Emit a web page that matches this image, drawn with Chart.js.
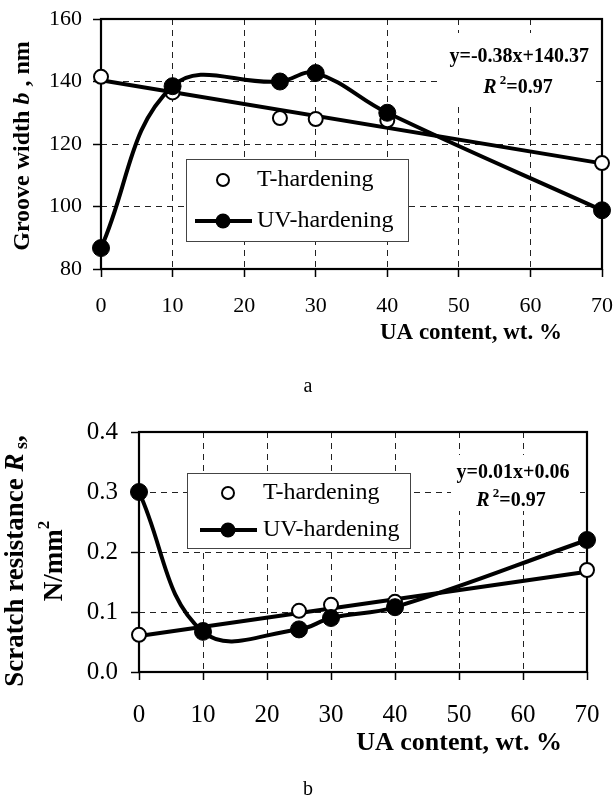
<!DOCTYPE html>
<html>
<head>
<meta charset="utf-8">
<script src="https://cdn.jsdelivr.net/npm/chart.js@4.4.1/dist/chart.umd.min.js"></script>
<style>
  html, body { margin: 0; padding: 0; background: #fff; }
  #wrap { position: relative; width: 613px; height: 803px; }
  canvas { position: absolute; left: 0; }
</style>
</head>
<body>
<div id="wrap">
  <canvas id="chart-a" width="613" height="400" style="top:0"></canvas>
  <canvas id="chart-b" width="613" height="403" style="top:400px"></canvas>
</div>
<script>
// values
const uaContent = [0, 10, 25, 30, 40, 70];

const grooveT = [141.5, 136.5, 128.3, 128, 127.6, 113.9];
const grooveUV = [86.7, 138.5, 140, 142.7, 130, 98.8];
const trendX = [0, 70];
const grooveTrend = [140.4, 113.8];

const scratchT = [0.062, 0.07, 0.102, 0.112, 0.117, 0.17];
const scratchUV = [0.30, 0.067, 0.071, 0.09, 0.108, 0.22];
const scratchTrend = [0.06, 0.167];

const SERIF = '"Liberation Serif", "Times New Roman", serif';

function pts(xs, ys) {
    return xs.map(function (x, i) { return { x: x, y: ys[i] }; });
}

// draws a run of text pieces with their own fonts (for italics, sub/superscripts)
function drawRich(ctx, parts, x, y, align) {
    let total = 0;
    parts.forEach(function (p) { ctx.font = p.font; total += ctx.measureText(p.t).width; });
    let cx = x;
    if (align === 'right') cx = x - total;
    if (align === 'center') cx = x - total / 2;
    ctx.textAlign = 'left';
    ctx.textBaseline = 'middle';
    ctx.fillStyle = '#000';
    parts.forEach(function (p) {
        ctx.font = p.font;
        ctx.fillText(p.t, cx, y + (p.dy || 0));
        cx += ctx.measureText(p.t).width;
    });
}

function drawRotated(ctx, parts, x, y) {
    ctx.save();
    ctx.translate(x, y);
    ctx.rotate(-Math.PI / 2);
    drawRich(ctx, parts, 0, 0, 'center');
    ctx.restore();
}

function decor(d) {
    return {
        id: 'decor',
        beforeDatasetsDraw: function (chart) {
            const ctx = chart.ctx, a = chart.chartArea;
            ctx.save();
            ctx.fillStyle = '#fff';
            ctx.fillRect(d.eqBox[0], d.eqBox[1], d.eqBox[2], d.eqBox[3]);
            ctx.setLineDash([]);
            ctx.strokeStyle = '#000';
            ctx.lineWidth = 2.2;
            ctx.strokeRect(a.left, a.top, a.right - a.left, a.bottom - a.top);
            ctx.restore();
        },
        afterDatasetsDraw: function (chart) {
            const ctx = chart.ctx, L = d.legend;
            ctx.save();
            // legend
            ctx.fillStyle = '#fff';
            ctx.fillRect(L.x, L.y, L.w, L.h);
            ctx.strokeStyle = '#444';
            ctx.lineWidth = 1;
            ctx.strokeRect(L.x + 0.5, L.y + 0.5, L.w, L.h);
            ctx.beginPath();
            ctx.arc(L.mx, L.row1, 6, 0, Math.PI * 2);
            ctx.fillStyle = '#fff';
            ctx.fill();
            ctx.lineWidth = 2;
            ctx.strokeStyle = '#000';
            ctx.stroke();
            ctx.beginPath();
            ctx.moveTo(L.mx - 28, L.row2);
            ctx.lineTo(L.mx + 29, L.row2);
            ctx.lineWidth = 4;
            ctx.stroke();
            ctx.beginPath();
            ctx.arc(L.mx, L.row2, 7.5, 0, Math.PI * 2);
            ctx.fillStyle = '#000';
            ctx.fill();
            drawRich(ctx, [{ t: 'T-hardening', font: '24px ' + SERIF }], L.tx, L.row1, 'left');
            drawRich(ctx, [{ t: 'UV-hardening', font: '24px ' + SERIF }], L.tx, L.row2, 'left');
            // regression text
            const b = 'bold 20px ' + SERIF;
            drawRich(ctx, [{ t: d.equation, font: b }], d.eqX, d.eqY, d.eqAlign);
            drawRich(ctx, [
                { t: 'R', font: 'italic bold 20px ' + SERIF },
                { t: ' 2', font: 'bold 13px ' + SERIF, dy: -7 },
                { t: '=0.97', font: b }
            ], d.r2X, d.r2Y, 'center');
            ctx.restore();
        },
        afterDraw: function (chart) {
            const ctx = chart.ctx;
            ctx.save();
            d.yTitle.forEach(function (line) { drawRotated(ctx, line.parts, line.x, line.y); });
            drawRich(ctx, [{ t: 'UA content, wt. %', font: 'bold ' + d.xTitleSize + 'px ' + SERIF }], 562, d.xTitleY, 'right');
            drawRich(ctx, [{ t: d.caption, font: '20px ' + SERIF }], 308, d.captionY, 'center');
            ctx.restore();
        }
    };
}

function fixedAxis(size, horizontal) {
    return function (scale) {
        if (horizontal) {
            scale.height = size;
            scale.paddingLeft = 0;
            scale.paddingRight = 0;
        } else {
            scale.width = size;
            scale.paddingTop = 0;
            scale.paddingBottom = 0;
        }
    };
}

function makeChart(id, c) {
    const gridOpts = { color: '#222', lineWidth: 1, tickLength: 8, tickColor: '#000', tickWidth: 1.5, tickBorderDash: [] };
    return new Chart(document.getElementById(id), {
        type: 'scatter',
        data: {
            datasets: [
                {
                    label: 'trend',
                    data: pts(trendX, c.trend),
                    showLine: true,
                    borderColor: '#000',
                    borderWidth: 4,
                    pointRadius: 0,
                    clip: false,
                    order: 3
                },
                {
                    label: 'T-hardening',
                    data: pts(uaContent, c.t),
                    showLine: false,
                    pointRadius: 7,
                    pointBorderWidth: 2,
                    pointBorderColor: '#000',
                    pointBackgroundColor: '#fff',
                    clip: false,
                    order: 2
                },
                {
                    label: 'UV-hardening',
                    data: pts(uaContent, c.uv),
                    showLine: true,
                    tension: 0.4,
                    borderColor: '#000',
                    borderWidth: 4,
                    pointRadius: 8.5,
                    pointBorderWidth: 1,
                    pointBorderColor: '#000',
                    pointBackgroundColor: '#000',
                    clip: false,
                    order: 1
                }
            ]
        },
        options: {
            responsive: false,
            animation: false,
            devicePixelRatio: 1,
            events: [],
            layout: { padding: c.padding },
            plugins: { legend: { display: false }, tooltip: { enabled: false } },
            scales: {
                x: {
                    type: 'linear',
                    min: 0,
                    max: 70,
                    afterFit: fixedAxis(c.xHeight, true),
                    ticks: { stepSize: 10, color: '#000', padding: c.xPad, maxRotation: 0, font: { family: SERIF, size: c.tickSize } },
                    grid: gridOpts,
                    border: { display: false, dash: [6, 5] }
                },
                y: {
                    min: c.yMin,
                    max: c.yMax,
                    afterFit: fixedAxis(c.yWidth, false),
                    ticks: {
                        stepSize: c.yStep,
                        color: '#000',
                        padding: c.yPad,
                        font: { family: SERIF, size: c.tickSize },
                        callback: c.yFmt
                    },
                    grid: gridOpts,
                    border: { display: false, dash: [6, 5] }
                }
            }
        },
        plugins: [decor(c.decor)]
    });
}

// a: groove width
makeChart('chart-a', {
    t: grooveT, uv: grooveUV, trend: grooveTrend,
    yMin: 80, yMax: 160, yStep: 20,
    yFmt: function (v) { return v; },
    padding: { top: 19, right: 11, left: 0, bottom: 0 },
    xHeight: 131, yWidth: 101, tickSize: 22, xPad: 16, yPad: 11,
    decor: {
        eqBox: [441, 33, 154, 74],
        legend: { x: 186, y: 159, w: 222, h: 82, row1: 180, row2: 221, mx: 223, tx: 257 },
        equation: 'y=-0.38x+140.37', eqX: 589, eqY: 57, eqAlign: 'right',
        r2X: 518, r2Y: 88,
        yTitle: [{
            x: 23, y: 146, parts: [
                { t: 'Groove width ', font: 'bold 24px ' + SERIF },
                { t: 'b', font: 'italic bold 24px ' + SERIF },
                { t: ' , nm', font: 'bold 24px ' + SERIF }
            ]
        }],
        xTitleSize: 23, xTitleY: 333, caption: 'a', captionY: 387
    }
});

// b: scratch resistance
makeChart('chart-b', {
    t: scratchT, uv: scratchUV, trend: scratchTrend,
    yMin: 0, yMax: 0.4, yStep: 0.1,
    yFmt: function (v) { return v.toFixed(1); },
    padding: { top: 32, right: 26, left: 0, bottom: 0 },
    xHeight: 131, yWidth: 139, tickSize: 25, xPad: 20, yPad: 13,
    decor: {
        eqBox: [451, 55, 129, 56],
        legend: { x: 187, y: 73, w: 223, h: 75, row1: 93, row2: 130, mx: 228, tx: 263 },
        equation: 'y=0.01x+0.06', eqX: 513, eqY: 73, eqAlign: 'center',
        r2X: 511, r2Y: 101,
        yTitle: [
            {
                x: 16, y: 161, parts: [
                    { t: 'Scratch resistance ', font: 'bold 27px ' + SERIF },
                    { t: 'R', font: 'italic bold 27px ' + SERIF },
                    { t: ' s', font: 'bold 18px ' + SERIF, dy: 6 },
                    { t: ',', font: 'bold 27px ' + SERIF }
                ]
            },
            {
                x: 55, y: 161, parts: [
                    { t: 'N/mm', font: 'bold 27px ' + SERIF },
                    { t: '2', font: 'bold 17px ' + SERIF, dy: -10 }
                ]
            }
        ],
        xTitleSize: 26, xTitleY: 343, caption: 'b', captionY: 390
    }
});
</script>
</body>
</html>
